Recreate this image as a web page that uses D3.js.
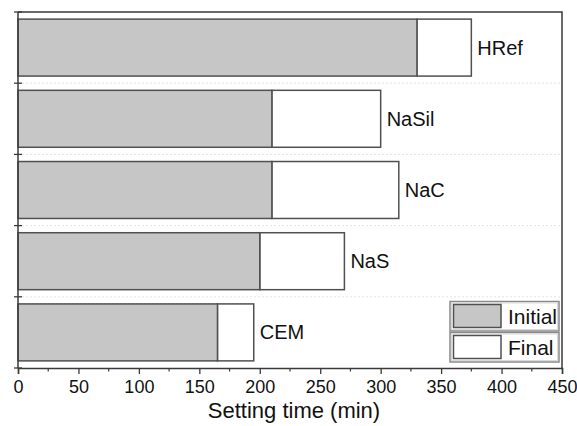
<!DOCTYPE html>
<html>
<head>
<meta charset="utf-8">
<script src="https://cdn.jsdelivr.net/npm/d3@7"></script>
<style>
  html, body { margin: 0; padding: 0; background: #fff; }
  svg { display: block; font-family: "Liberation Sans", Arial, Helvetica, sans-serif; }
</style>
</head>
<body>
<svg id="chart" width="577" height="426"></svg>
<script>
// Setting times of the mixes (minutes)
const categories = ["HRef", "NaSil", "NaC", "NaS", "CEM"];
const initialTimes = [330, 210, 210, 200, 165];
const finalTimes = [375, 300, 315, 270, 195];
const xTicks = [0, 50, 100, 150, 200, 250, 300, 350, 400, 450];
const xMinorTicks = [25, 75, 125, 175, 225, 275, 325, 375, 425];
const seriesNames = ["Initial", "Final"];
const axisTitle = "Setting time (min)";

const svg = d3.select("#chart");
const plot = { left: 18, right: 562, top: 12, bottom: 368 };

const x = d3.scaleLinear().domain([0, 450]).range([plot.left, plot.right]);
const y = d3.scaleBand().domain(categories)
  .range([plot.top, plot.bottom])
  .paddingInner(0.2).paddingOuter(0.1);

const frameColor = "#3a3a3a";
const barStroke = "#505050";
const initialFill = "#c6c6c6";
const finalFill = "#ffffff";

// dotted separators between categories
const step = y.step();
const separators = d3.range(1, categories.length).map(k => plot.top + k * step);
svg.append("g").selectAll("line").data(separators).join("line")
  .attr("x1", plot.left).attr("x2", plot.right)
  .attr("y1", d => d).attr("y2", d => d)
  .attr("stroke", "#e4e4e4").attr("stroke-width", 1)
  .attr("stroke-dasharray", "2,2");

const rows = categories.map((c, i) => ({ c, ini: initialTimes[i], fin: finalTimes[i] }));

// final portion: from initial to final setting time
svg.append("g").selectAll("rect").data(rows).join("rect")
  .attr("x", d => x(d.ini))
  .attr("y", d => y(d.c))
  .attr("width", d => x(d.fin) - x(d.ini))
  .attr("height", y.bandwidth())
  .attr("fill", finalFill).attr("stroke", barStroke).attr("stroke-width", 1.5);

// initial portion
svg.append("g").selectAll("rect").data(rows).join("rect")
  .attr("x", x(0))
  .attr("y", d => y(d.c))
  .attr("width", d => x(d.ini) - x(0))
  .attr("height", y.bandwidth())
  .attr("fill", initialFill).attr("stroke", barStroke).attr("stroke-width", 1.5);

// category labels next to each bar
svg.append("g").selectAll("text").data(rows).join("text")
  .attr("x", d => x(d.fin) + 6)
  .attr("y", d => y(d.c) + y.bandwidth() / 2 + 7)
  .attr("font-size", 20).attr("fill", "#111")
  .text(d => d.c);

// frame (top and right)
svg.append("path")
  .attr("d", `M${plot.left},${plot.top}H${plot.right}V${plot.bottom}`)
  .attr("fill", "none").attr("stroke", frameColor).attr("stroke-width", 1.5);

// x axis
const xAxis = d3.axisBottom(x).tickValues(xTicks).tickSize(6).tickPadding(6)
  .tickFormat(d3.format("d"));
const gx = svg.append("g").attr("transform", `translate(0,${plot.bottom})`).call(xAxis);
gx.select(".domain").attr("stroke", frameColor).attr("stroke-width", 1.5);
gx.selectAll(".tick line").attr("stroke", frameColor).attr("stroke-width", 1.3);
gx.selectAll(".tick text").attr("font-size", 18).attr("fill", "#111")
  .attr("font-family", "'Liberation Sans', Arial, sans-serif");
svg.append("g").selectAll("line").data(xMinorTicks).join("line")
  .attr("x1", d => x(d)).attr("x2", d => x(d))
  .attr("y1", plot.bottom).attr("y2", plot.bottom + 3.5)
  .attr("stroke", frameColor).attr("stroke-width", 1.2);

// y axis with ticks on the category boundaries
const yBounds = d3.range(0, categories.length + 1).map(k => plot.top + k * step);
svg.append("line")
  .attr("x1", plot.left).attr("x2", plot.left)
  .attr("y1", plot.top).attr("y2", plot.bottom)
  .attr("stroke", frameColor).attr("stroke-width", 1.5);
svg.append("g").selectAll("line").data(yBounds).join("line")
  .attr("x1", plot.left - 4).attr("x2", plot.left + 4)
  .attr("y1", d => d).attr("y2", d => d)
  .attr("stroke", frameColor).attr("stroke-width", 1.3);

// axis title
svg.append("text")
  .attr("x", 294).attr("y", 418)
  .attr("text-anchor", "middle")
  .attr("font-size", 22).attr("fill", "#111")
  .text(axisTitle);

// legend
const legendFills = [initialFill, finalFill];
const legend = svg.append("g").attr("transform", "translate(450,301.5)");
const entry = legend.selectAll("g").data(seriesNames).join("g")
  .attr("transform", (d, i) => `translate(0,${i * 31})`);
entry.append("rect")
  .attr("x", 0).attr("y", 0).attr("width", 109).attr("height", 29.5)
  .attr("fill", "#fff").attr("stroke", "#8a8a8a").attr("stroke-width", 1.5);
entry.append("rect")
  .attr("x", 1.5).attr("y", 1.5).attr("width", 106).attr("height", 26.5)
  .attr("fill", "none").attr("stroke", "#d0d0d0").attr("stroke-width", 0.8);
entry.append("rect")
  .attr("x", 3.5).attr("y", 3).attr("width", 47.5).attr("height", 23)
  .attr("fill", (d, i) => legendFills[i])
  .attr("stroke", barStroke).attr("stroke-width", 1.5);
entry.append("text")
  .attr("x", 58).attr("y", 22.5)
  .attr("font-size", 21).attr("fill", "#111")
  .text(d => d);
</script>
</body>
</html>
